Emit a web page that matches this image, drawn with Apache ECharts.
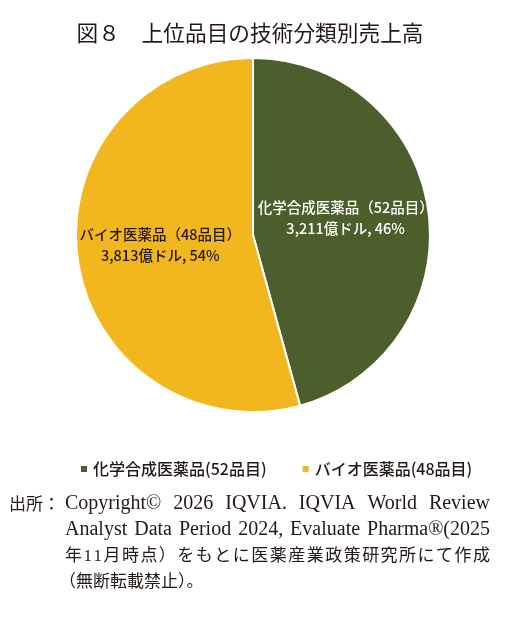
<!DOCTYPE html>
<html>
<head>
<meta charset="utf-8">
<script src="https://cdn.jsdelivr.net/npm/echarts@6/dist/echarts.min.js"></script>
<style>
  html, body { margin: 0; padding: 0; background: #fff; }
  #main { width: 516px; height: 628px; }
</style>
</head>
<body>
<div id="main"></div>
<script>
var categories = ['化学合成医薬品(52品目)', 'バイオ医薬品(48品目)'];
var labelNames = ['化学合成医薬品（52品目）', 'バイオ医薬品（48品目）'];
var sales = [3211, 3813];
var shares = [46, 54];
var colors = ['#4b5e2b', '#f2b71f'];
var titleText = '図８　上位品目の技術分類別売上高';
var noteLines = [
    'Copyright© 2026 IQVIA. IQVIA World Review',
    'Analyst Data Period 2024, Evaluate Pharma®(2025',
    '年11月時点）をもとに医薬産業政策研究所にて作成',
    '（無断転載禁止）。'
];

var myChart = echarts.init(document.getElementById('main'));

var serif = '"Liberation Serif", "Noto Sans CJK JP", serif';
var measureCtx = document.createElement('canvas').getContext('2d');

// spread the pieces of one line between x0 and x1 (justified like the print)
function justify(pieces, x0, x1, y, size) {
    measureCtx.font = size + 'px ' + serif;
    var widths = pieces.map(function (p) { return measureCtx.measureText(p).width; });
    var total = widths.reduce(function (a, b) { return a + b; }, 0);
    var gap = pieces.length > 1 ? (x1 - x0 - total) / (pieces.length - 1) : 0;
    var x = x0;
    var out = [];
    for (var i = 0; i < pieces.length; i++) {
        out.push({
            type: 'text', left: x, top: y,
            style: { text: pieces[i], font: size + 'px ' + serif, fill: '#231815' }
        });
        x += widths[i] + gap;
    }
    return out;
}

var latinSize = 20, cjkSize = 17;
var noteX0 = 65, noteX1 = 490;
var graphics = [{
    type: 'text', left: 9, top: 497,
    style: { text: '出所：', font: cjkSize + 'px ' + serif, fill: '#231815' }
}];
graphics = graphics.concat(justify(noteLines[0].split(' '), noteX0, noteX1, 494, latinSize));
graphics = graphics.concat(justify(noteLines[1].split(' '), noteX0, noteX1, 520, latinSize));
graphics = graphics.concat(justify(noteLines[2].split(''), noteX0, noteX1, 548, cjkSize));
graphics.push({
    type: 'text', left: noteX0 - 6, top: 574,
    style: { text: noteLines[3], font: cjkSize + 'px ' + serif, fill: '#231815' }
});

var pieData = [];
for (var i = 0; i < categories.length; i++) {
    pieData.push({
        name: categories[i],
        value: sales[i],
        itemStyle: { color: colors[i] },
        label: {
            color: i === 0 ? '#ffffff' : '#231815',
            offset: i === 0 ? [2, -5] : [-2, -2]
        }
    });
}

option = {
    backgroundColor: '#ffffff',
    title: {
        text: titleText,
        left: 245,
        top: 17,
        textAlign: 'center',
        textStyle: {
            fontFamily: 'Noto Sans CJK JP',
            fontSize: 21.7,
            fontWeight: 'normal',
            color: '#231815'
        }
    },
    legend: {
        top: 456,
        left: 74,
        itemWidth: 8,
        itemHeight: 8,
        itemGap: 34,
        icon: 'rect',
        selectedMode: false,
        textStyle: {
            fontFamily: 'Noto Sans CJK JP',
            fontSize: 16,
            fontWeight: 500,
            color: '#231815'
        }
    },
    graphic: graphics,
    series: [{
        type: 'pie',
        center: [253, 235],
        radius: 177,
        startAngle: 90,
        clockwise: true,
        animation: false,
        itemStyle: { borderColor: '#ffffff', borderWidth: 2 },
        label: {
            show: true,
            position: 'inside',
            fontFamily: 'Noto Sans CJK JP',
            fontSize: 14.5,
            fontWeight: 500,
            lineHeight: 21,
            formatter: function (p) {
                var i = p.dataIndex;
                return labelNames[i] + '\n' + sales[i].toLocaleString('en-US') + '億ドル, ' + shares[i] + '%';
            }
        },
        labelLine: { show: false },
        emphasis: { disabled: true },
        data: pieData
    }]
};

myChart.setOption(option);
</script>
</body>
</html>
